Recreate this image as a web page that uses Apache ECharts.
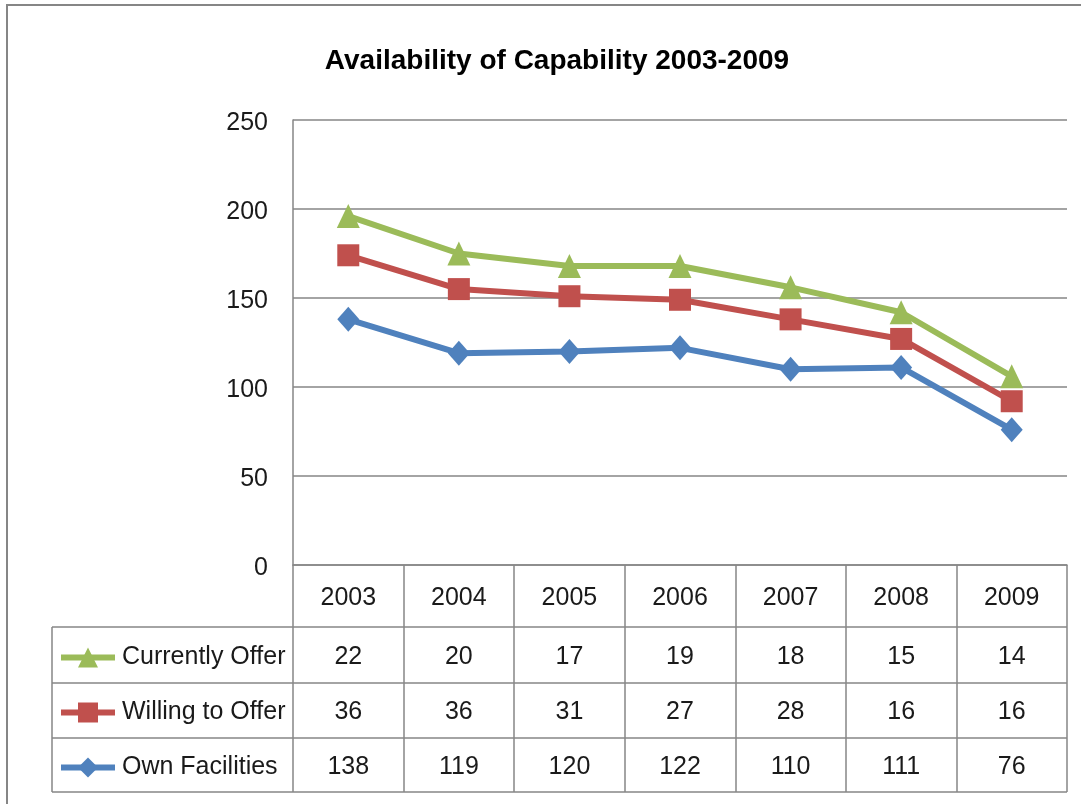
<!DOCTYPE html>
<html>
<head>
<meta charset="utf-8">
<script src="https://cdn.jsdelivr.net/npm/echarts@6/dist/echarts.min.js"></script>
<style>html,body{margin:0;padding:0;background:#fff;}#c{width:1081px;height:804px;}</style>
</head>
<body>
<div id="c"></div>
<script>
const categories = ['2003','2004','2005','2006','2007','2008','2009'];
const currentlyOffer = [22, 20, 17, 19, 18, 15, 14];
const willingToOffer = [36, 36, 31, 27, 28, 16, 16];
const ownFacilities = [138, 119, 120, 122, 110, 111, 76];
const yTicks = [0, 50, 100, 150, 200, 250];

const FONT = '"Liberation Sans", Arial, sans-serif';
const GRAY = '#868686';
const TXT = '#1a1a1a';
const FS = 25;

const chart = echarts.init(document.getElementById('c'));

function rowAxis(offset, arr, margin, tickLen) {
  return {
    type: 'category', data: categories, gridIndex: 0, position: 'bottom', offset: offset,
    boundaryGap: true,
    axisLine: { show: false },
    axisTick: { show: true, length: tickLen, lineStyle: { color: GRAY, width: 1.5 } },
    axisLabel: { show: true, margin: margin, verticalAlign: 'middle', fontSize: FS, fontFamily: FONT, color: TXT,
      formatter: (v, i) => String(arr[i]) },
    splitLine: { show: false }
  };
}

const line = (x1, y1, x2, y2) => ({ type: 'line', shape: { x1, y1, x2, y2 }, style: { stroke: GRAY, lineWidth: 1.5 }, silent: true });

chart.setOption({
  animation: false,
  backgroundColor: '#fff',
  title: {
    text: 'Availability of Capability 2003-2009',
    left: 552, top: 42, textAlign: 'center',
    textStyle: { fontSize: 28, fontWeight: 'bold', fontFamily: FONT, color: '#000' }
  },
  legend: {
    orient: 'vertical', left: 58, top: 645, padding: 0,
    data: ['Currently Offer', 'Willing to Offer', 'Own Facilities'],
    itemWidth: 54, itemHeight: 25, itemGap: 30,
    lineStyle: { width: 6 },
    textStyle: { fontSize: FS, fontFamily: FONT, color: TXT, padding: [0, 0, 0, 2] }
  },
  grid: { left: 293, right: 14, top: 120, bottom: 239, containLabel: false },
  xAxis: [
    {
      type: 'category', data: categories, position: 'bottom', boundaryGap: true,
      axisLine: { show: true, lineStyle: { color: GRAY, width: 1.5 } },
      axisTick: { show: true, length: 62, lineStyle: { color: GRAY, width: 1.5 } },
      axisLabel: { margin: 33, verticalAlign: 'middle', fontSize: FS, fontFamily: FONT, color: TXT },
      splitLine: { show: false }
    },
    rowAxis(62, currentlyOffer, 30, 56),
    rowAxis(118, willingToOffer, 29, 55),
    rowAxis(173, ownFacilities, 29, 54)
  ],
  yAxis: {
    type: 'value', min: yTicks[0], max: yTicks[yTicks.length - 1], interval: 50,
    axisLine: { show: true, lineStyle: { color: GRAY, width: 1.5 } },
    axisTick: { show: false },
    axisLabel: { margin: 25, fontSize: FS, fontFamily: FONT, color: TXT, verticalAlign: 'top', lineHeight: 6 },
    splitLine: { show: true, lineStyle: { color: GRAY, width: 1.5 } }
  },
  series: [
    {
      name: 'Own Facilities', type: 'line', stack: 'total', data: ownFacilities,
      symbol: 'diamond', symbolSize: [22, 25],
      lineStyle: { color: '#4F81BD', width: 6 }, itemStyle: { color: '#4F81BD' }, z: 3
    },
    {
      name: 'Willing to Offer', type: 'line', stack: 'total', data: willingToOffer,
      symbol: 'rect', symbolSize: [22, 22],
      lineStyle: { color: '#C0504D', width: 6 }, itemStyle: { color: '#C0504D' }, z: 4
    },
    {
      name: 'Currently Offer', type: 'line', stack: 'total', data: currentlyOffer,
      symbol: 'triangle', symbolSize: [23, 24],
      lineStyle: { color: '#9BBB59', width: 6 }, itemStyle: { color: '#9BBB59' }, z: 5
    }
  ],
  graphic: [
    { type: 'rect', shape: { x: 7, y: 5, width: 1100, height: 830 }, style: { fill: 'none', stroke: GRAY, lineWidth: 2 }, silent: true, z: -1 },
    line(52, 627, 1067, 627),
    line(52, 683, 1067, 683),
    line(52, 738, 1067, 738),
    line(52, 792, 1067, 792),
    line(52, 627, 52, 792)
  ]
});
</script>
</body>
</html>
